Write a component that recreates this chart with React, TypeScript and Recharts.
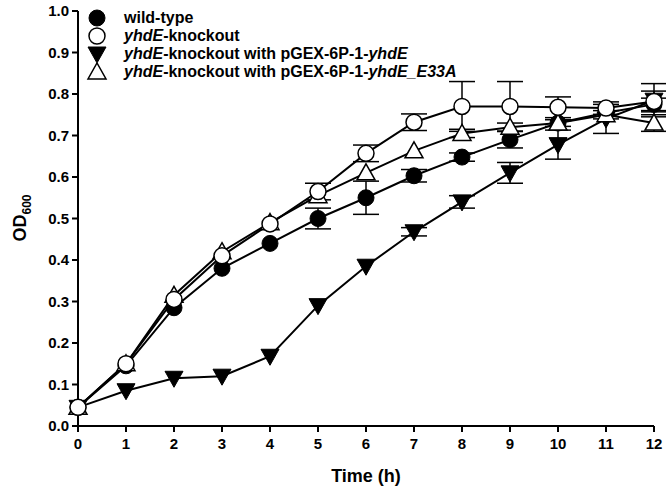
import React from 'react';
import { LineChart, Line, XAxis, YAxis, ErrorBar, Legend, Label } from 'recharts';

const hours = [0, 1, 2, 3, 4, 5, 6, 7, 8, 9, 10, 11, 12];

// null = error bar too small to show (hidden behind the marker)
const wildType = [0.045, 0.145, 0.285, 0.38, 0.44, 0.5, 0.55, 0.603, 0.648, 0.69, 0.73, 0.755, 0.775];
const wildTypeErr = [null, null, null, null, null, 0.025, 0.04, 0.015, 0.01, 0.02, null, null, 0.015];

const knockout = [0.045, 0.15, 0.305, 0.41, 0.487, 0.565, 0.657, 0.732, 0.77, 0.77, 0.768, 0.766, 0.782];
const knockoutErr = [null, null, null, null, null, 0.02, 0.02, 0.02, 0.06, 0.06, 0.025, 0.015, 0.025];

const complemented = [0.045, 0.085, 0.115, 0.12, 0.168, 0.29, 0.385, 0.468, 0.54, 0.61, 0.678, 0.74, 0.785];
const complementedErr = [null, null, null, null, null, null, null, 0.01, 0.015, 0.025, 0.035, 0.035, 0.04];

const mutantE33A = [0.045, 0.15, 0.315, 0.42, 0.49, 0.555, 0.61, 0.663, 0.705, 0.72, 0.73, 0.75, 0.73];
const mutantE33AErr = [null, null, null, null, null, null, null, null, 0.01, 0.01, 0.008, 0.01, 0.02];

const yTicks = [0, 0.1, 0.2, 0.3, 0.4, 0.5, 0.6, 0.7, 0.8, 0.9, 1.0];

const data = hours.map((h, i) => ({
  h,
  wt: wildType[i],
  wtErr: wildTypeErr[i],
  ko: knockout[i],
  koErr: knockoutErr[i],
  comp: complemented[i],
  compErr: complementedErr[i],
  e33a: mutantE33A[i],
  e33aErr: mutantE33AErr[i],
}));

const FONT = '"Liberation Sans", Arial, sans-serif';

type Kind = 'filledCircle' | 'openCircle' | 'downTri' | 'upTri';

const Marker = ({ kind, cx, cy }: { kind: Kind; cx: number; cy: number }) => {
  if (kind === 'filledCircle') return <circle cx={cx} cy={cy} r={8} fill="#000" stroke="#000" strokeWidth={1} />;
  if (kind === 'openCircle') return <circle cx={cx} cy={cy} r={8} fill="#fff" stroke="#000" strokeWidth={1.5} />;
  if (kind === 'downTri')
    return <polygon points={`${cx - 9},${cy - 7} ${cx + 9},${cy - 7} ${cx},${cy + 9}`} fill="#000" stroke="#000" strokeWidth={1} />;
  return <polygon points={`${cx},${cy - 9} ${cx + 9},${cy + 7} ${cx - 9},${cy + 7}`} fill="#fff" stroke="#000" strokeWidth={1.5} />;
};

const makeDot = (kind: Kind) => (props: any) => (
  <Marker key={`${kind}-${props.index}`} kind={kind} cx={props.cx} cy={props.cy} />
);

const legendItems: { kind: Kind; text: React.ReactNode }[] = [
  { kind: 'filledCircle', text: <>wild-type</> },
  { kind: 'openCircle', text: <><i>yhdE</i>-knockout</> },
  { kind: 'downTri', text: <><i>yhdE</i>-knockout with pGEX-6P-1-<i>yhdE</i></> },
  { kind: 'upTri', text: <><i>yhdE</i>-knockout with pGEX-6P-1-<i>yhdE_E33A</i></> },
];

const LegendBox = () => (
  <div style={{ fontFamily: FONT, fontWeight: 700, fontSize: 16, color: '#000' }}>
    {legendItems.map((it) => (
      <div key={it.kind} style={{ display: 'flex', alignItems: 'center', height: 18 }}>
        <svg width={22} height={18} style={{ marginRight: 16 }}>
          <Marker kind={it.kind} cx={11} cy={9} />
        </svg>
        <span>{it.text}</span>
      </div>
    ))}
  </div>
);

const YLabel = () => (
  <text
    x={26}
    y={218}
    transform="rotate(-90 26 218)"
    textAnchor="middle"
    fontFamily={FONT}
    fontWeight={700}
    fontSize={18}
    fill="#000"
  >
    OD<tspan fontSize={12} dy={5}>600</tspan>
  </text>
);

const series: { key: string; err: string; kind: Kind }[] = [
  { key: 'comp', err: 'compErr', kind: 'downTri' },
  { key: 'wt', err: 'wtErr', kind: 'filledCircle' },
  { key: 'e33a', err: 'e33aErr', kind: 'upTri' },
  { key: 'ko', err: 'koErr', kind: 'openCircle' },
];

export default function App() {
  return (
    <div style={{ position: 'absolute', left: 0, top: 0, width: 666, height: 496, background: '#fff' }}>
      <LineChart width={666} height={496} data={data} margin={{ top: 11, right: 12, bottom: 0, left: 0 }}>
        <XAxis
          dataKey="h"
          type="number"
          domain={[0, 12]}
          ticks={hours}
          interval={0}
          height={70}
          stroke="#000"
          strokeWidth={2}
          tickSize={6}
          tick={{ fill: '#000', fontFamily: FONT, fontWeight: 700, fontSize: 15 }}
          tickMargin={6}
        >
          <Label value="Time (h)" position="insideBottom" offset={14} style={{ fill: '#000', fontFamily: FONT, fontWeight: 700, fontSize: 18 }} />
        </XAxis>
        <YAxis
          type="number"
          domain={[0, 1]}
          ticks={yTicks}
          interval={0}
          width={78}
          stroke="#000"
          strokeWidth={2}
          tickSize={6}
          tickFormatter={(v: number) => v.toFixed(1)}
          tick={{ fill: '#000', fontFamily: FONT, fontWeight: 700, fontSize: 15 }}
          tickMargin={3}
        >
          <Label content={<YLabel />} />
        </YAxis>
        <Legend
          layout="vertical"
          align="center"
          verticalAlign="middle"
          content={<LegendBox />}
          wrapperStyle={{ left: 86, top: 9, width: 420, height: 80 }}
        />
        {/* lines + error bars first */}
        {series.map((s) => (
          <Line key={s.key} dataKey={s.key} stroke="#000" strokeWidth={2} dot={false} activeDot={false} isAnimationActive={false}>
            <ErrorBar dataKey={s.err} width={13} stroke="#000" strokeWidth={1.5} direction="y" />
          </Line>
        ))}
        {/* markers on top so they cover the error bars */}
        {series.map((s) => (
          <Line
            key={`${s.key}-m`}
            dataKey={s.key}
            stroke="none"
            legendType="none"
            dot={makeDot(s.kind)}
            activeDot={false}
            isAnimationActive={false}
          />
        ))}
      </LineChart>
    </div>
  );
}
